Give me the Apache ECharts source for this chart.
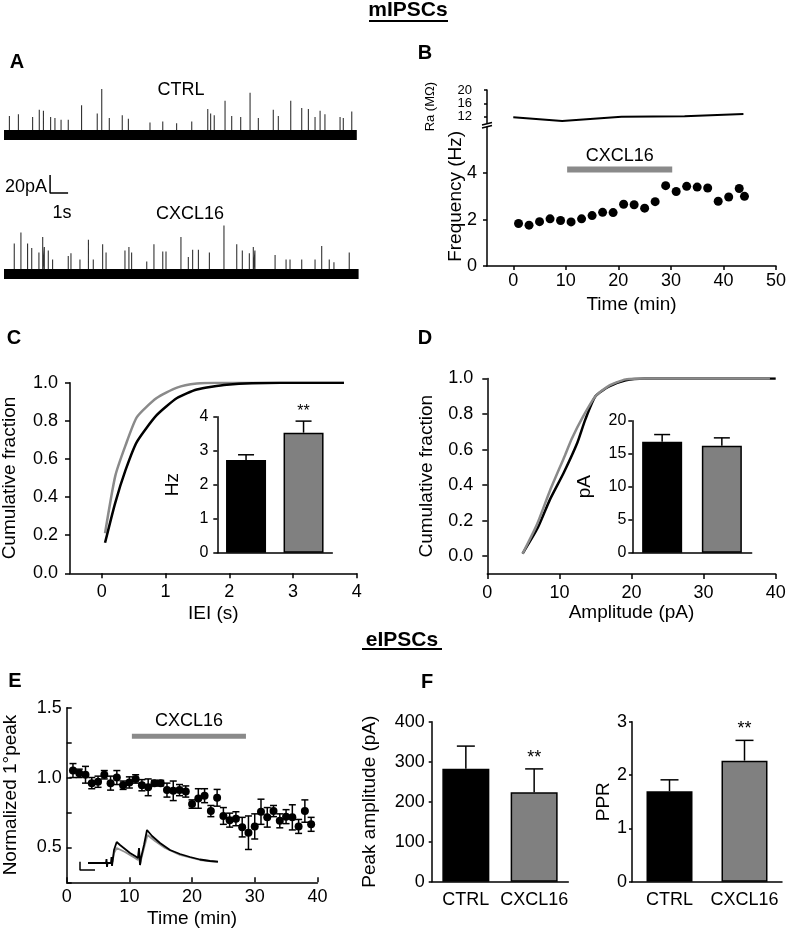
<!DOCTYPE html>
<html><head><meta charset="utf-8">
<script src="https://cdn.jsdelivr.net/npm/echarts@6/dist/echarts.min.js"></script>
<style>html,body{margin:0;padding:0;background:#fff}#c{width:787px;height:933px}</style>
</head><body><div id="c"></div>
<script>
// ---------------- DATA ----------------
// Panel A: mIPSC traces (event times in s, amplitudes in pA above baseline)
const ctrlDuration = 19.6;
const ctrlSpikeT = [0.30,0.80,1.59,1.96,2.19,2.59,2.83,3.17,3.57,4.31,5.18,5.43,5.85,6.57,6.91,8.11,8.82,9.59,10.43,11.32,11.48,11.68,12.28,12.65,13.15,13.67,14.13,14.96,15.24,15.93,16.54,16.91,17.28,17.56,17.83,18.67,18.85,19.32];
const ctrlSpikeAmp = [21,23,20,28,27,20,19,17,17,33,24,51,19,22,18,14,15,13,15,29,24,22,38,21,20,47,19,28,21,38,30,29,20,27,23,20,19,26];
const cxDuration = 19.7;
const cxSpikeT = [0.57,0.94,1.31,1.54,1.94,2.15,2.24,2.46,2.70,3.57,3.72,4.22,4.69,4.96,5.48,5.67,6.72,6.94,7.09,7.93,8.33,8.82,9.00,9.83,10.24,10.48,10.80,11.41,12.22,12.93,13.24,13.63,13.85,13.94,15.06,15.67,15.89,16.54,17.28,17.65,18.07,18.33,19.18];
const cxSpikeAmp = [34,46,34,29,24,41,30,26,16,20,23,16,38,16,33,24,26,30,24,14,33,25,25,41,19,27,27,24,54,33,26,23,30,26,21,16,16,16,16,31,16,13,24];
const scaleBarT = 2.56, scaleBarPA = 90, scaleBarSec = 1, scaleBarAmp = 20;

// Panel B
const freqTime = [1,3,5,7,9,11,13,15,17,19,21,23,25,27,29,31,33,35,37,39,41,43,44];
const freqHz = [1.83,1.76,1.91,2.03,1.96,1.90,2.03,2.17,2.31,2.30,2.66,2.64,2.49,2.77,3.46,3.21,3.43,3.40,3.36,2.79,2.97,3.34,3.00];
const raTime = [0,9.3,20.6,32.6,43.8];
const raMOhm = [11.8,10.7,12.0,12.1,12.8];
const drugB = [10.25, 30.25]; const drugLevelB = 4.16;
const freqTicks = [0,2,4];
const timeTicksB = [0,10,20,30,40,50];
const raTicks = [12,16,20];

// Panel C (IEI cumulative)
const ieiCtrlX = [0.05,0.21,0.37,0.55,0.86,1.18,1.49,1.96,2.8,3.8];
const ieiCtrlY = [0.16,0.37,0.54,0.69,0.83,0.92,0.965,0.99,1.0,1.0];
const ieiCxX = [0.05,0.21,0.37,0.55,0.86,1.18,1.49,1.8,3.8];
const ieiCxY = [0.21,0.51,0.67,0.82,0.92,0.975,0.996,1.0,1.0];
const ieiTicks = [0,1,2,3,4];
const groups = ['CTRL','CXCL16'];
const freqMean = [2.73, 3.53];
const freqErrTop = [2.88, 3.87];

// Panel D (amplitude cumulative)
const ampCtrlX = [4.9,7.0,8.7,10.6,12.5,13.6,15.0,16.9,19.2,21.8,40];
const ampCtrlY = [0.015,0.16,0.32,0.47,0.64,0.77,0.90,0.955,0.99,1.0,1.0];
const ampCxX = [4.9,6.9,8.7,10.8,11.7,13.2,15.0,16.9,19.2,22,39.2];
const ampCxY = [0.015,0.18,0.37,0.57,0.66,0.78,0.90,0.96,0.995,1.0,1.0];
const cumTicks = [0,0.2,0.4,0.6,0.8,1.0];
const ampMean = [16.8, 16.2];
const ampErrTop = [17.9, 17.4];

// Panel E
const eTime = [1,2,3,4,5,6,7,8,9,10,11,12,13,14,15,16,17,18,19,20,21,22,23,24,25,26,27,28,29,30,31,32,33,34,35,36,37,38,39];
const eMean = [1.05,1.03,1.02,0.96,0.97,1.02,0.96,1.0,0.945,0.965,0.99,0.945,0.93,0.96,0.96,0.91,0.905,0.91,0.9,0.81,0.85,0.87,0.76,0.855,0.725,0.695,0.705,0.645,0.605,0.65,0.755,0.715,0.76,0.69,0.72,0.715,0.65,0.76,0.665];
const eErr = [0.05,0.03,0.06,0.04,0.04,0.03,0.05,0.05,0.03,0.04,0.03,0.04,0.06,0.02,0.02,0.05,0.07,0.04,0.04,0.03,0.07,0.05,0.04,0.06,0.06,0.05,0.05,0.07,0.12,0.09,0.09,0.07,0.04,0.05,0.05,0.09,0.05,0.08,0.05];
const drugE = [10.4, 28.6]; const drugLevelE = 1.295;
// Panel E inset (example eIPSC sweeps, arbitrary units)
const insetBlackX = [13,31,31.5,32,32.5,36,36.5,37,37.5,39,41.7,45,50,55,60,63,64,65,66,67,69,72,77,85,95,105,115,125,135,143];
const insetBlackY = [12,12,16,8,12,12,18,9,13,25,33,30,26,22,19,17,27,10,17,15,30,45,39,32,25,21,18,15.5,14,13.3];
const insetGrayX = [37.5,39,41.7,50,60,63,64,65,66,67,69,72.5,80,90,105,125,143];
const insetGrayY = [13,22,27,23,17,15,25,10,15,13,27,40,34,27,20,15,13];
const insetScaleX = [5,5,20];
const insetScaleY = [13.3,5,5];

// Panel F
const peakMean = [282.5, 223.5];
const peakErrTop = [339, 282];
const pprMean = [1.695, 2.27];
const pprErrTop = [1.91, 2.65];

// ---------------- STYLE / BUILD ----------------
const FF = '"Liberation Sans", Arial, Helvetica, sans-serif';
const BLACK = '#000', GRAYBAR = '#808080', GRAYLINE = '#8a8a8a';
const barColors = [BLACK, GRAYBAR];

function merge(a, b) {
  const o = Object.assign({}, a);
  for (const k in b) {
    if (b[k] && typeof b[k] === 'object' && !Array.isArray(b[k]) && a[k] && typeof a[k] === 'object' && !Array.isArray(a[k])) o[k] = merge(a[k], b[k]);
    else o[k] = b[k];
  }
  return o;
}
const baseAxis = {
  nameLocation: 'middle', nameMoveOverlap: false,
  splitLine: {show: false},
  axisLine: {show: true, onZero: false, lineStyle: {color: BLACK, width: 1.5}},
  axisTick: {show: true, length: 5, lineStyle: {color: BLACK, width: 1.5}},
  axisLabel: {color: BLACK, fontSize: 18, fontFamily: FF, hideOverlap: false},
  nameTextStyle: {color: BLACK, fontSize: 19, fontFamily: FF}
};
const hiddenAx = (gi, min, max) => ({type: 'value', gridIndex: gi, min, max, show: false});
const catAx = (gi, extra) => merge(baseAxis, merge({type: 'category', gridIndex: gi, data: groups, axisTick: {show: false}, axisLabel: {show: false, interval: 0}}, extra || {}));
const pairs = (xs, ys) => xs.map((x, i) => [x, ys[i]]);
const spikes = (ts, amps) => { const d = []; ts.forEach((t, i) => { d.push([t, 0], [t, amps[i]], [t, 0]); }); return d; };

function barErr(cap) {
  return function (params, api) {
    const c = api.value(0), v = api.value(1), e = api.value(2);
    const p0 = api.coord([c, v]), p1 = api.coord([c, e]);
    const st = {stroke: BLACK, lineWidth: 1.5};
    return {type: 'group', children: [
      {type: 'line', shape: {x1: p0[0], y1: p0[1], x2: p1[0], y2: p1[1]}, style: st},
      {type: 'line', shape: {x1: p1[0] - cap, y1: p1[1], x2: p1[0] + cap, y2: p1[1]}, style: st}
    ]};
  };
}
function ptErr(params, api) {
  const t = api.value(0), m = api.value(1), e = api.value(2);
  const pt = api.coord([t, m + e]), pb = api.coord([t, m - e]);
  const st = {stroke: BLACK, lineWidth: 1.5}, cap = 3.5;
  return {type: 'group', children: [
    {type: 'line', shape: {x1: pt[0], y1: pt[1], x2: pb[0], y2: pb[1]}, style: st},
    {type: 'line', shape: {x1: pt[0] - cap, y1: pt[1], x2: pt[0] + cap, y2: pt[1]}, style: st},
    {type: 'line', shape: {x1: pb[0] - cap, y1: pb[1], x2: pb[0] + cap, y2: pb[1]}, style: st}
  ]};
}
const barSeries = (xi, yi, vals, bw) => ({type: 'bar', xAxisIndex: xi, yAxisIndex: yi, barWidth: bw,
  data: vals.map((v, i) => ({value: v, itemStyle: {color: barColors[i], borderColor: BLACK, borderWidth: 1.5, opacity: 1}})), z: 3});
const errSeries = (xi, yi, vals, tops, cap) => ({type: 'custom', xAxisIndex: xi, yAxisIndex: yi, renderItem: barErr(cap),
  encode: {x: 0, y: 1}, data: vals.map((v, i) => [i, v, tops[i]]), z: 4});
const starSeries = (xi, yi, idx, top, fs) => ({type: 'scatter', xAxisIndex: xi, yAxisIndex: yi, symbolSize: 0, data: [[idx, top]],
  itemStyle: {opacity: 1, color: BLACK},
  label: {show: true, position: 'top', distance: 2, formatter: '**', color: BLACK, fontSize: fs, fontFamily: FF, opacity: 1}, z: 5});
const lineS = (xi, yi, data, color, width, extra) => Object.assign({type: 'line', xAxisIndex: xi, yAxisIndex: yi, data, symbol: 'none',
  lineStyle: {color, width, opacity: 1}, itemStyle: {color}, animation: false}, extra || {});
const dotS = (xi, yi, data, size) => ({type: 'scatter', xAxisIndex: xi, yAxisIndex: yi, data, symbolSize: size,
  itemStyle: {color: BLACK, opacity: 1}, z: 4});
const drugLabel = (xi, yi, x, y, dist) => ({type: 'scatter', xAxisIndex: xi, yAxisIndex: yi, symbolSize: 0, data: [[x, y]],
  itemStyle: {opacity: 1},
  label: {show: true, position: 'top', distance: dist, formatter: 'CXCL16', color: BLACK, fontSize: 18, fontFamily: FF}});

const grids = [
  {left: 4, top: 81, width: 354.6, height: 67.5},
  {left: 4, top: 175, width: 354.6, height: 117},
  {left: 487, top: 90, width: 289, height: 33.3},
  {left: 487, top: 126.7, width: 289, height: 139.3},
  {left: 70, top: 382.8, width: 286.7, height: 190.5},
  {left: 217.3, top: 416.7, width: 115, height: 136},
  {left: 487.3, top: 378.5, width: 288.4, height: 195.5},
  {left: 632.3, top: 420.7, width: 119.4, height: 132},
  {left: 66.7, top: 707.7, width: 250.7, height: 174.6},
  {left: 75, top: 825, width: 150, height: 50},
  {left: 431.7, top: 721.7, width: 136.6, height: 160},
  {left: 632, top: 721.7, width: 150, height: 160}
].map(g => Object.assign(g, {containLabel: false, outerBoundsMode: 'none'}));

const xAxes = [
  hiddenAx(0, 0, 19.7),
  hiddenAx(1, 0, 19.7),
  hiddenAx(2, -5, 50),
  merge(baseAxis, {type: 'value', gridIndex: 3, min: -5, max: 50, name: 'Time (min)', nameGap: 29,
    axisTick: {customValues: timeTicksB, length: 4}, axisLabel: {customValues: timeTicksB, margin: 6}}),
  merge(baseAxis, {type: 'value', gridIndex: 4, min: -0.5, max: 4, name: 'IEI (s)', nameGap: 31,
    axisTick: {customValues: ieiTicks}, axisLabel: {customValues: ieiTicks, margin: 10}}),
  catAx(5),
  merge(baseAxis, {type: 'value', gridIndex: 6, min: 0, max: 40, interval: 10, name: 'Amplitude (pA)', nameGap: 29,
    axisLabel: {margin: 10}}),
  catAx(7),
  merge(baseAxis, {type: 'value', gridIndex: 8, min: 0, max: 40, interval: 10, name: 'Time (min)', nameGap: 27,
    axisTick: {inside: true}, axisLabel: {margin: 6}}),
  hiddenAx(9, 0, 150),
  catAx(10, {axisLabel: {show: true, margin: 9}}),
  catAx(11, {axisLabel: {show: true, margin: 9}})
];
const yAxes = [
  hiddenAx(0, -15, 60),
  hiddenAx(1, -20, 110),
  merge(baseAxis, {type: 'value', gridIndex: 2, min: 10, max: 20, name: 'Ra (MΩ)', nameGap: 50,
    nameTextStyle: {fontSize: 13}, axisTick: {customValues: raTicks, length: 3},
    axisLabel: {customValues: raTicks, fontSize: 13, margin: 15}}),
  merge(baseAxis, {type: 'value', gridIndex: 3, min: 0, max: 6, name: 'Frequency (Hz)', nameGap: 22,
    axisTick: {customValues: freqTicks, length: 4}, axisLabel: {customValues: freqTicks, margin: 10}}),
  merge(baseAxis, {type: 'value', gridIndex: 4, min: 0, max: 1, interval: 0.2, name: 'Cumulative fraction', nameGap: 51,
    axisLabel: {margin: 12, formatter: v => v.toFixed(1)}}),
  merge(baseAxis, {type: 'value', gridIndex: 5, min: 0, max: 4, interval: 1, name: 'Hz', nameGap: 35,
    axisTick: {length: 4}, axisLabel: {fontSize: 16, margin: 9}}),
  merge(baseAxis, {type: 'value', gridIndex: 6, min: -0.1, max: 1.0, name: 'Cumulative fraction', nameGap: 51,
    axisTick: {customValues: cumTicks}, axisLabel: {customValues: cumTicks, margin: 14, formatter: v => v.toFixed(1)}}),
  merge(baseAxis, {type: 'value', gridIndex: 7, min: 0, max: 20, interval: 5, name: 'pA', nameGap: 38,
    axisTick: {length: 4}, axisLabel: {fontSize: 16, margin: 6}}),
  merge(baseAxis, {type: 'value', gridIndex: 8, min: 0.25, max: 1.5, interval: 0.25, name: 'Normalized 1°peak', nameGap: 46,
    axisTick: {inside: true}, axisLabel: {margin: 5,
      formatter: v => Math.abs(v * 2 - Math.round(v * 2)) < 1e-6 ? v.toFixed(1) : ''}}),
  hiddenAx(9, 0, 50),
  merge(baseAxis, {type: 'value', gridIndex: 10, min: 0, max: 400, interval: 100, name: 'Peak amplitude (pA)', nameGap: 52,
    axisTick: {length: 3}, axisLabel: {margin: 7}}),
  merge(baseAxis, {type: 'value', gridIndex: 11, min: 0, max: 3, interval: 1, name: 'PPR', nameGap: 19,
    axisTick: {length: 3}, axisLabel: {margin: 5}})
];

const series = [
  // A
  lineS(0, 0, spikes(ctrlSpikeT, ctrlSpikeAmp), '#333', 1.1, {z: 1}),
  lineS(0, 0, [[0, 0], [ctrlDuration, 0]], BLACK, 10, {z: 2}),
  lineS(1, 1, spikes(cxSpikeT, cxSpikeAmp), '#333', 1.1, {z: 1}),
  lineS(1, 1, [[0, 0], [cxDuration, 0]], BLACK, 10, {z: 2}),
  lineS(1, 1, [[scaleBarT, scaleBarPA + scaleBarAmp], [scaleBarT, scaleBarPA], [scaleBarT + scaleBarSec, scaleBarPA]], BLACK, 1.5),
  // B
  lineS(2, 2, pairs(raTime, raMOhm), BLACK, 2),
  dotS(3, 3, pairs(freqTime, freqHz), 9),
  lineS(3, 3, [[drugB[0], drugLevelB], [drugB[1], drugLevelB]], GRAYLINE, 6),
  drugLabel(3, 3, (drugB[0] + drugB[1]) / 2, drugLevelB, 4),
  // C
  lineS(4, 4, pairs(ieiCxX, ieiCxY), GRAYLINE, 2.5, {smooth: 0.2}),
  lineS(4, 4, pairs(ieiCtrlX, ieiCtrlY), BLACK, 2.5, {smooth: 0.2}),
  barSeries(5, 5, freqMean, 40),
  errSeries(5, 5, freqMean, freqErrTop, 8),
  starSeries(5, 5, 1, freqErrTop[1], 16),
  // D
  lineS(6, 6, pairs(ampCtrlX, ampCtrlY), BLACK, 2.5, {smooth: 0.2}),
  lineS(6, 6, pairs(ampCxX, ampCxY), GRAYLINE, 2.5, {smooth: 0.2}),
  barSeries(7, 7, ampMean, 40),
  errSeries(7, 7, ampMean, ampErrTop, 8),
  // E
  {type: 'custom', xAxisIndex: 8, yAxisIndex: 8, renderItem: ptErr, encode: {x: 0, y: 1},
    data: eTime.map((t, i) => [t, eMean[i], eErr[i]]), z: 3},
  dotS(8, 8, pairs(eTime, eMean), 8),
  lineS(8, 8, [[drugE[0], drugLevelE], [drugE[1], drugLevelE]], GRAYLINE, 5),
  drugLabel(8, 8, (drugE[0] + drugE[1]) / 2, drugLevelE, 6),
  lineS(9, 9, pairs(insetGrayX, insetGrayY), '#8f8f8f', 1.8, {z: 2}),
  lineS(9, 9, pairs(insetBlackX, insetBlackY), BLACK, 1.8, {z: 3}),
  lineS(9, 9, pairs(insetScaleX, insetScaleY), BLACK, 1.5),
  // F
  barSeries(10, 10, peakMean, 47),
  errSeries(10, 10, peakMean, peakErrTop, 9),
  starSeries(10, 10, 1, peakErrTop[1], 18),
  barSeries(11, 11, pprMean, 46),
  errSeries(11, 11, pprMean, pprErrTop, 9),
  starSeries(11, 11, 1, pprErrTop[1], 18)
];

const txt = (x, y, text, size, weight, extra) => ({type: 'text', x, y, z: 10,
  style: Object.assign({text, fill: BLACK, fontSize: size, fontWeight: weight || 'normal', fontFamily: FF, align: 'center', verticalAlign: 'middle'}, extra || {})});
const seg = (x1, y1, x2, y2, w) => ({type: 'line', z: 10, shape: {x1, y1, x2, y2}, style: {stroke: BLACK, lineWidth: w || 1.5}});

const graphics = [
  txt(408, 10, 'mIPSCs', 21, 'bold'), seg(369, 21, 448, 21, 1.8),
  txt(402, 640, 'eIPSCs', 21, 'bold'), seg(362, 649, 442, 649, 1.8),
  txt(17, 62, 'A', 20, 'bold'), txt(425, 53, 'B', 20, 'bold'),
  txt(14, 338, 'C', 20, 'bold'), txt(425, 338, 'D', 20, 'bold'),
  txt(15, 681, 'E', 20, 'bold'), txt(427, 682, 'F', 20, 'bold'),
  txt(181, 90, 'CTRL', 18), txt(190, 214, 'CXCL16', 18),
  txt(26, 187, '20pA', 18), txt(62, 213, '1s', 18),
  {type: 'rect', z: 9, shape: {x: 482, y: 123.6, width: 10, height: 3}, style: {fill: '#fff'}},
  seg(482, 125, 492, 122.5, 1.3), seg(482, 128, 492, 125.5, 1.3)
];

const chart = echarts.init(document.getElementById('c'), null, {renderer: 'canvas'});
chart.setOption({
  animation: false,
  backgroundColor: '#fff',
  textStyle: {fontFamily: FF, color: BLACK},
  grid: grids, xAxis: xAxes, yAxis: yAxes, series,
  graphic: {elements: graphics}
});
</script></body></html>
